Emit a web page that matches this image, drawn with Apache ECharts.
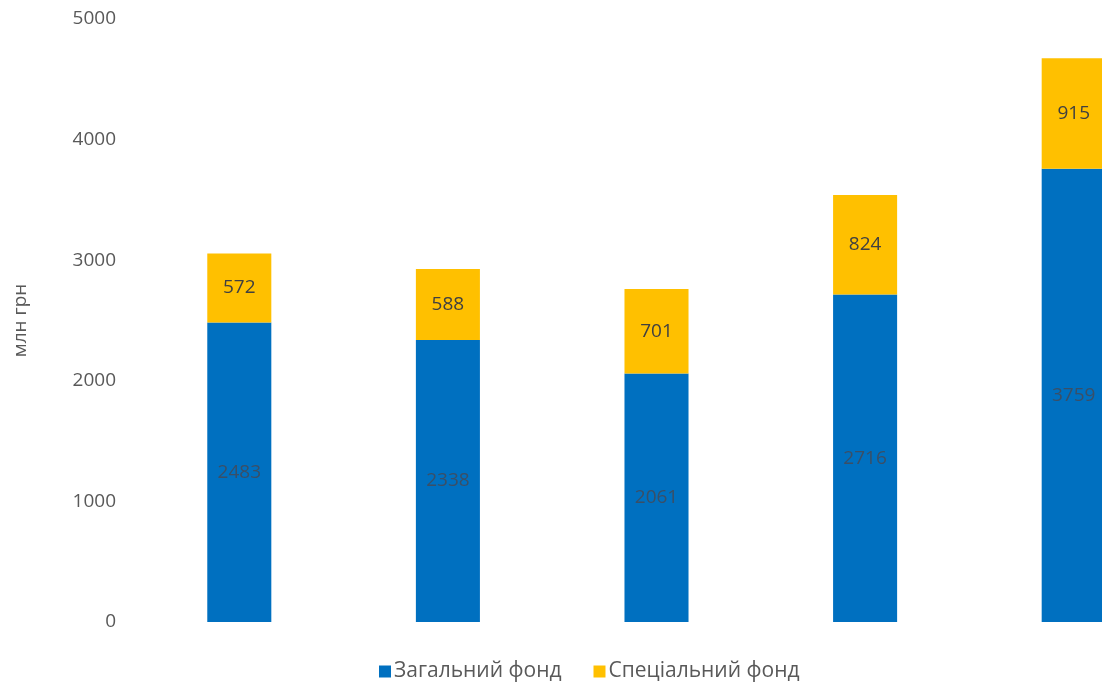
<!DOCTYPE html>
<html>
<head>
<meta charset="utf-8">
<script src="https://cdn.jsdelivr.net/npm/echarts@6/dist/echarts.min.js"></script>
<style>html,body{margin:0;padding:0;background:#fff;}#c{width:1102px;height:684px;}</style>
</head>
<body>
<div id="c"></div>
<script>
const categories = ['1', '2', '3', '4', '5'];
const generalFund = [2483, 2338, 2061, 2716, 3759];
const specialFund = [572, 588, 701, 824, 915];
const seriesNames = ['Загальний фонд', 'Спеціальний фонд'];
const yTicks = [0, 1000, 2000, 3000, 4000, 5000];
const yAxisName = 'млн грн';

const chart = echarts.init(document.getElementById('c'));
const font = '"Open Sans", "Noto Sans", sans-serif';
chart.setOption({
  animation: false,
  backgroundColor: '#fff',
  grid: { left: 135, width: 1043, top: 19, height: 603, containLabel: false, outerBoundsMode: 'none' },
  legend: {
    left: 374, top: 656,
    itemWidth: 12, itemHeight: 12, itemGap: 32,
    icon: 'rect',
    textStyle: { fontFamily: font, fontSize: 21, color: '#595959', padding: [0, 0, 0, -2] },
    data: seriesNames
  },
  xAxis: {
    type: 'category', data: categories,
    axisLine: { show: false }, axisTick: { show: false }, axisLabel: { show: false }
  },
  yAxis: {
    type: 'value', min: yTicks[0], max: yTicks[yTicks.length - 1], interval: 1000,
    name: yAxisName, nameLocation: 'middle', nameGap: 105, nameRotate: 90,
    nameTextStyle: { fontFamily: font, fontSize: 19, color: '#595959' },
    axisLine: { show: false }, axisTick: { show: false }, splitLine: { show: false },
    axisLabel: { fontFamily: font, fontSize: 19, color: '#595959', margin: 19,
      formatter: function (v) { return String(v); } }
  },
  series: [
    {
      name: seriesNames[0], type: 'bar', stack: 'total', data: generalFund,
      barWidth: '30.7%',
      itemStyle: { color: '#0070C0' },
      label: { show: true, position: 'inside', fontFamily: font, fontSize: 19, color: '#3a4f66' }
    },
    {
      name: seriesNames[1], type: 'bar', stack: 'total', data: specialFund,
      barWidth: '30.7%',
      itemStyle: { color: '#FFC000' },
      label: { show: true, position: 'inside', fontFamily: font, fontSize: 19, color: '#404040' }
    }
  ]
});
</script>
</body>
</html>
